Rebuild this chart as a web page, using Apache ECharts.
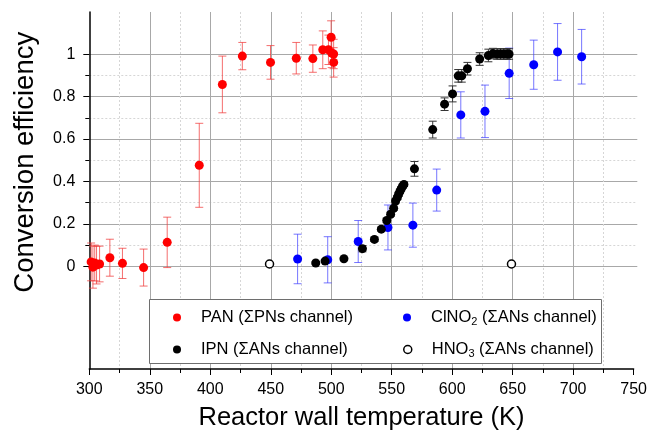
<!DOCTYPE html>
<html>
<head>
<meta charset="utf-8">
<script src="https://cdn.jsdelivr.net/npm/echarts@6/dist/echarts.min.js"></script>
<style>
html,body{margin:0;padding:0;background:#fff;}
#chart{width:650px;height:436px;}
</style>
</head>
<body>
<div id="chart"></div>
<script>
// ---- Data ----
const xTicks = [300, 350, 400, 450, 500, 550, 600, 650, 700, 750];
const yTicks = [0, 0.2, 0.4, 0.6, 0.8, 1];

const panT = [301.5, 303, 304.5, 306, 308.5, 317, 327.4, 344.9, 364.4, 390.9, 410, 426.5, 449.8, 471.1, 484.8, 493, 497.7, 499.9, 500.4, 502, 502];
const panY = [0.01, -0.015, 0.005, -0.005, 0, 0.03, 0.003, -0.017, 0.103, 0.47, 0.855, 0.99, 0.96, 0.98, 0.978, 1.02, 1.02, 1.08, 1.005, 1.0, 0.96];
const panErr = [0.09, 0.1, 0.085, 0.09, 0.085, 0.088, 0.072, 0.088, 0.12, 0.2, 0.135, 0.065, 0.08, 0.075, 0.065, 0.09, 0.07, 0.078, 0.07, 0.07, 0.07];

const clT = [472.2, 497.1, 522.3, 546.9, 567.5, 587.2, 607.1, 627.1, 647.1, 667.4, 687.1, 707.0];
const clY = [0.024, 0.02, 0.107, 0.174, 0.185, 0.352, 0.71, 0.727, 0.908, 0.949, 1.01, 0.987];
const clErr = [0.118, 0.11, 0.1, 0.107, 0.105, 0.1, 0.11, 0.125, 0.12, 0.117, 0.135, 0.13];

const ipnT = [487.2, 494.9, 510.5, 525.8, 535.7, 541.4, 545.9, 549.1, 551.6, 553.2, 554.6, 555.7, 556.8, 557.8, 559.0, 560.1, 568.8, 583.9, 593.7, 600.3, 605.0, 607.9, 612.6, 622.7, 629.9, 633.7, 637.2, 640.0, 642.7, 645.4, 647.0];
const ipnY = [0.005, 0.014, 0.025, 0.073, 0.117, 0.166, 0.207, 0.237, 0.265, 0.30, 0.316, 0.332, 0.346, 0.358, 0.37, 0.379, 0.453, 0.64, 0.761, 0.81, 0.896, 0.896, 0.93, 0.976, 0.993, 1.002, 1.0, 1.0, 1.0, 1.0, 1.0];
const ipnErr = [0.005, 0.005, 0.005, 0.015, 0.01, 0.01, 0.01, 0.01, 0.01, 0.01, 0.01, 0.01, 0.01, 0.01, 0.01, 0.01, 0.035, 0.04, 0.03, 0.038, 0.03, 0.03, 0.03, 0.03, 0.03, 0.025, 0.025, 0.025, 0.025, 0.025, 0.025];

const hnoT = [449, 649];
const hnoY = [0, 0];

const names = {
  pan: 'PAN (ΣPNs channel)',
  cl: 'ClNO2 (ΣANs channel)',
  ipn: 'IPN (ΣANs channel)',
  hno: 'HNO3 (ΣANs channel)'
};

// ---- Helpers ----
const FONT = "'Liberation Sans', Arial, sans-serif";
function pts(t, y) { return t.map((v, i) => [v, y[i]]); }
function errs(t, y, e) { return t.map((v, i) => [v, y[i] - e[i], y[i] + e[i]]); }
function errSeries(data, color) {
  return {
    type: 'custom',
    xAxisIndex: 0, yAxisIndex: 0,
    z: 1,
    silent: true,
    data: data,
    renderItem: function (params, api) {
      const x = api.value(0), lo = api.value(1), hi = api.value(2);
      const a = api.coord([x, lo]), b = api.coord([x, hi]);
      const hw = 4;
      const st = { stroke: color, lineWidth: 1, fill: null };
      return {
        type: 'group',
        children: [
          { type: 'line', shape: { x1: a[0], y1: a[1], x2: b[0], y2: b[1] }, style: st },
          { type: 'line', shape: { x1: a[0] - hw, y1: a[1], x2: a[0] + hw, y2: a[1] }, style: st },
          { type: 'line', shape: { x1: b[0] - hw, y1: b[1], x2: b[0] + hw, y2: b[1] }, style: st }
        ]
      };
    }
  };
}

const G = { left: 89.3, width: 548, top: 12, height: 360 };
const yMin = -0.5, yMax = 1.2;
const g1Top = G.top + G.height * (yMax - 1) / (yMax - yMin);
const g1H = G.height / (yMax - yMin);

const richText = {
  n: { fontSize: 16.5, lineHeight: 20, fontFamily: FONT, color: '#000' },
  s: { fontSize: 11, lineHeight: 11, fontFamily: FONT, color: '#000', verticalAlign: 'bottom' }
};
function legendFmt(name) {
  if (name === names.cl) return '{n|ClNO}{s|2}{n| (ΣANs channel)}';
  if (name === names.hno) return '{n|HNO}{s|3}{n| (ΣANs channel)}';
  return '{n|' + name + '}';
}
function legendAt(name, left, top, extraStyle) {
  const l = {
    data: [name],
    left: left, top: top,
    padding: 0,
    itemWidth: 38, itemHeight: 8,
    icon: 'circle',
    selectedMode: false,
    formatter: legendFmt,
    textStyle: { fontSize: 16.5, fontFamily: FONT, color: '#000', rich: richText },
    z: 6
  };
  if (extraStyle) l.itemStyle = extraStyle;
  return l;
}

const chart = echarts.init(document.getElementById('chart'), null, { renderer: 'canvas' });

const option = {
  backgroundColor: '#fff',
  animation: false,
  textStyle: { fontFamily: FONT },
  grid: [
    { left: G.left, width: G.width, top: G.top, height: G.height, containLabel: false },
    { left: G.left, width: G.width, top: g1Top, height: g1H, containLabel: false }
  ],
  xAxis: [
    {
      gridIndex: 0, type: 'value', min: xTicks[0], max: xTicks[xTicks.length - 1], interval: 50,
      name: 'Reactor wall temperature (K)', nameLocation: 'middle', nameGap: 36,
      nameTextStyle: { fontSize: 25.5, fontFamily: FONT, color: '#000' },
      axisLine: { show: true, onZero: false, lineStyle: { color: '#000', width: 1.5 } },
      axisTick: { show: true, length: 6, lineStyle: { color: '#000', width: 1 } },
      minorTick: { show: true, splitNumber: 2, length: 4, lineStyle: { color: '#000', width: 1 } },
      axisLabel: { fontSize: 16, color: '#000', margin: 13, fontFamily: FONT, showMinLabel: true, showMaxLabel: true },
      splitLine: { show: true, showMinLine: false, showMaxLine: false, lineStyle: { color: '#a8a8a8', width: 1 } },
      minorSplitLine: { show: true, lineStyle: { color: '#d6d6d6', width: 1, type: [2, 2] } }
    },
    {
      gridIndex: 1, type: 'value', min: xTicks[0], max: xTicks[xTicks.length - 1], interval: 50, show: false
    }
  ],
  yAxis: [
    {
      gridIndex: 0, type: 'value', min: yMin, max: yMax,
      axisLine: { show: true, onZero: false, lineStyle: { color: '#000', width: 1.5 } },
      axisTick: { show: false }, axisLabel: { show: false }, splitLine: { show: false }
    },
    {
      gridIndex: 1, type: 'value', min: yTicks[0], max: yTicks[yTicks.length - 1], interval: 0.2,
      name: 'Conversion efficiency', nameLocation: 'middle', nameGap: 50,
      nameTextStyle: { fontSize: 27.5, fontFamily: FONT, color: '#000', padding: [0, 4, 0, 0] },
      axisLine: { show: false },
      axisTick: { show: true, length: 6, lineStyle: { color: '#000', width: 1 } },
      minorTick: { show: true, splitNumber: 2, length: 4, lineStyle: { color: '#000', width: 1 } },
      axisLabel: { fontSize: 16, color: '#000', margin: 14, fontFamily: FONT },
      splitLine: { show: true, lineStyle: { color: '#a8a8a8', width: 1 } },
      minorSplitLine: { show: true, lineStyle: { color: '#d6d6d6', width: 1, type: [2, 2] } }
    }
  ],
  legend: [
    legendAt(names.pan, 173, 309),
    legendAt(names.cl, 403, 309),
    legendAt(names.ipn, 173, 341),
    legendAt(names.hno, 403, 341, { color: '#fff', borderColor: '#000', borderWidth: 1.5 })
  ],
  graphic: [
    {
      type: 'rect', z: 5, silent: true,
      shape: { x: 149.5, y: 299.5, width: 452, height: 64 },
      style: { fill: '#fff', stroke: '#6e6e6e', lineWidth: 1 }
    }
  ],
  series: [
    errSeries(errs(panT, panY, panErr), 'rgba(240,60,60,0.75)'),
    errSeries(errs(clT, clY, clErr), 'rgba(60,60,255,0.7)'),
    errSeries(errs(ipnT, ipnY, ipnErr), '#333'),
    {
      name: names.pan, type: 'scatter', xAxisIndex: 0, yAxisIndex: 0, z: 3,
      symbol: 'circle', symbolSize: 9, itemStyle: { color: '#ff0000', opacity: 1 },
      data: pts(panT, panY)
    },
    {
      name: names.cl, type: 'scatter', xAxisIndex: 0, yAxisIndex: 0, z: 3,
      symbol: 'circle', symbolSize: 9, itemStyle: { color: '#0000ff', opacity: 1 },
      data: pts(clT, clY)
    },
    {
      name: names.ipn, type: 'scatter', xAxisIndex: 0, yAxisIndex: 0, z: 3,
      symbol: 'circle', symbolSize: 9, itemStyle: { color: '#000000', opacity: 1 },
      data: pts(ipnT, ipnY)
    },
    {
      name: names.hno, type: 'scatter', xAxisIndex: 0, yAxisIndex: 0, z: 3,
      symbol: 'circle', symbolSize: 8,
      itemStyle: { color: '#ffffff', borderColor: '#000', borderWidth: 1.5, opacity: 1 },
      data: pts(hnoT, hnoY)
    }
  ]
};
chart.setOption(option);
</script>
</body>
</html>
